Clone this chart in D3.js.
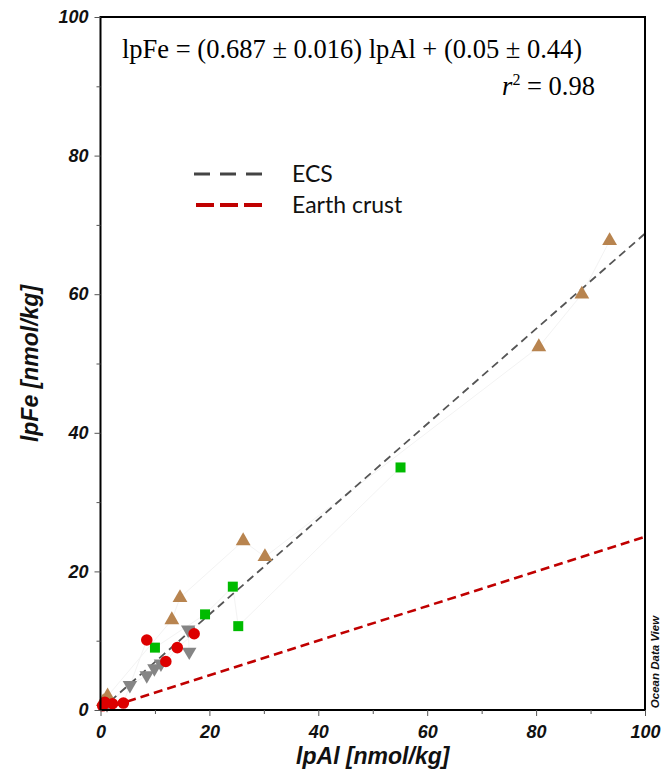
<!DOCTYPE html>
<html>
<head>
<meta charset="utf-8">
<script src="https://cdn.jsdelivr.net/npm/d3@7"></script>
<style>
  html, body { margin: 0; padding: 0; background: #fff; }
  svg { display: block; }
</style>
</head>
<body>
<svg id="chart" width="664" height="780"></svg>
<script>
// lpAl (x) / lpFe (y) pairs, nmol/kg, one array per station group
const brownTriangles = [
  [93.5, 67.7], [88.4, 60.0], [80.5, 52.4], [30.2, 22.1], [26.2, 24.4],
  [14.6, 16.2], [13.1, 13.0], [1.3, 2.0], [0.5, 1.2]
];
const greenSquares = [
  [55.1, 35.0], [25.3, 12.1], [24.3, 17.8], [19.2, 13.8], [10.0, 9.0]
];
const redCircles = [
  [17.2, 11.0], [14.1, 9.0], [12.0, 7.0], [8.5, 10.1], [4.2, 1.0],
  [2.2, 0.9], [0.8, 1.1], [0.4, 0.6]
];
const grayTriangles = [
  [16.3, 8.4], [16.1, 11.6], [11.1, 6.7], [9.9, 6.0], [8.5, 5.0],
  [5.4, 3.6], [1.2, 0.8]
];

// Regression (ECS) and crustal Fe/Al reference lines
const ecsSlope = 0.687, ecsIntercept = 0.05;
const crustSlope = 0.25;

const xTicks = [0, 20, 40, 60, 80, 100];
const yTicks = [0, 20, 40, 60, 80, 100];
const minorTicks = [10, 30, 50, 70, 90];

const svg = d3.select("#chart");
const plotL = 100.5, plotR = 645, plotT = 17, plotB = 710;

const x = d3.scaleLinear().domain([0, 100]).range([plotL, plotR]);
const y = d3.scaleLinear().domain([0, 100]).range([plotB, plotT]);

const tickFont = "'Liberation Sans', Arial, sans-serif";

// faint connecting lines within each group
const faint = d3.line().x(d => x(d[0])).y(d => y(d[1]));
[brownTriangles, greenSquares, redCircles, grayTriangles].forEach(s => {
  const sorted = s.slice().sort((a, b) => a[0] - b[0]);
  svg.append("path").attr("d", faint(sorted))
    .attr("fill", "none").attr("stroke", "#f3f3f3").attr("stroke-width", 1);
});

// reference lines
const refLine = (slope, icpt) => d3.line().x(d => x(d)).y(d => y(slope * d + icpt))([0, 100]);
svg.append("path").attr("d", refLine(crustSlope, 0))
  .attr("fill", "none").attr("stroke", "#c00000").attr("stroke-width", 2.6)
  .attr("stroke-dasharray", "9,5");
svg.append("path").attr("d", refLine(ecsSlope, ecsIntercept))
  .attr("fill", "none").attr("stroke", "#555555").attr("stroke-width", 1.8)
  .attr("stroke-dasharray", "8,5");

// markers
const sym = (type, size) => d3.symbol().type(type).size(size)();
const drawSet = (data, path, color, rot) => {
  svg.append("g").selectAll("path").data(data).join("path")
    .attr("d", path)
    .attr("transform", d => `translate(${x(d[0])},${y(d[1])}) rotate(${rot})`)
    .attr("fill", color);
};
drawSet(grayTriangles, sym(d3.symbolTriangle, 90), "#858585", 180);
drawSet(greenSquares, sym(d3.symbolSquare, 100), "#00bb00", 0);
drawSet(brownTriangles, sym(d3.symbolTriangle, 95), "#b8844f", 0);
drawSet(redCircles, sym(d3.symbolCircle, 105), "#dd0000", 0);

// frame
svg.append("rect").attr("x", plotL).attr("y", plotT)
  .attr("width", plotR - plotL).attr("height", plotB - plotT)
  .attr("fill", "none").attr("stroke", "#000").attr("stroke-width", 2);

// axes
const xAxis = d3.axisBottom(x).tickValues(xTicks).tickSize(6).tickPadding(6).tickFormat(d3.format("d"));
const yAxis = d3.axisLeft(y).tickValues(yTicks).tickSize(6).tickPadding(6).tickFormat(d3.format("d"));
const gx = svg.append("g").attr("transform", `translate(0,${plotB})`).call(xAxis);
const gy = svg.append("g").attr("transform", `translate(${plotL},0)`).call(yAxis);
const gxm = svg.append("g").attr("transform", `translate(0,${plotB})`)
  .call(d3.axisBottom(x).tickValues(minorTicks).tickSize(4).tickFormat(""));
const gym = svg.append("g").attr("transform", `translate(${plotL},0)`)
  .call(d3.axisLeft(y).tickValues(minorTicks).tickSize(4).tickFormat(""));
[gx, gy, gxm, gym].forEach(g => {
  g.select(".domain").remove();
  g.selectAll("line").attr("stroke", "#555").attr("stroke-width", 1);
  g.selectAll("text").attr("font-family", tickFont).attr("font-size", 18)
    .attr("font-weight", "bold").attr("font-style", "italic").attr("fill", "#111");
});
gx.selectAll("text").attr("dy", "0.9em");

// axis titles
svg.append("text").attr("x", (plotL + plotR) / 2).attr("y", 764)
  .attr("text-anchor", "middle").attr("font-family", tickFont).attr("font-size", 23)
  .attr("font-weight", "bold").attr("font-style", "italic").attr("fill", "#111")
  .text("lpAl [nmol/kg]");
svg.append("text").attr("transform", `translate(38,${(plotT + plotB) / 2}) rotate(-90)`)
  .attr("text-anchor", "middle").attr("font-family", tickFont).attr("font-size", 23)
  .attr("font-weight", "bold").attr("font-style", "italic").attr("fill", "#111")
  .text("lpFe [nmol/kg]");

// watermark
svg.append("text").attr("transform", "translate(659,662) rotate(-90)")
  .attr("text-anchor", "middle").attr("font-family", tickFont).attr("font-size", 11.5)
  .attr("font-weight", "bold").attr("font-style", "italic").attr("fill", "#111")
  .text("Ocean Data View");

// regression equation
const serif = "'Liberation Serif', 'Times New Roman', serif";
svg.append("text").attr("x", 122).attr("y", 58)
  .attr("font-family", serif).attr("font-size", 26.5).attr("fill", "#000")
  .text(`lpFe = (${ecsSlope.toFixed(3)} \u00b1 0.016) lpAl + (${ecsIntercept.toFixed(2)} \u00b1 0.44)`);
const r2 = svg.append("text").attr("x", 595).attr("y", 95).attr("text-anchor", "end")
  .attr("font-family", serif).attr("font-size", 26.5).attr("fill", "#000");
r2.append("tspan").attr("font-style", "italic").text("r");
r2.append("tspan").attr("font-size", 16).attr("dy", -10).text("2");
r2.append("tspan").attr("dy", 10).text(" = 0.98");

// legend
const legFont = "Lato, 'Open Sans', sans-serif";
const legend = [
  { label: "ECS", color: "#444444", width: 3, dash: "16,10", x1: 194, y: 174 },
  { label: "Earth crust", color: "#c00000", width: 4, dash: "18,6", x1: 196, y: 205 }
];
legend.forEach(l => {
  svg.append("line").attr("x1", l.x1).attr("x2", 263).attr("y1", l.y).attr("y2", l.y)
    .attr("stroke", l.color).attr("stroke-width", l.width).attr("stroke-dasharray", l.dash);
  svg.append("text").attr("x", 292).attr("y", l.y + 8)
    .attr("font-family", legFont).attr("font-size", 23).attr("fill", "#111").text(l.label);
});
</script>
</body>
</html>
